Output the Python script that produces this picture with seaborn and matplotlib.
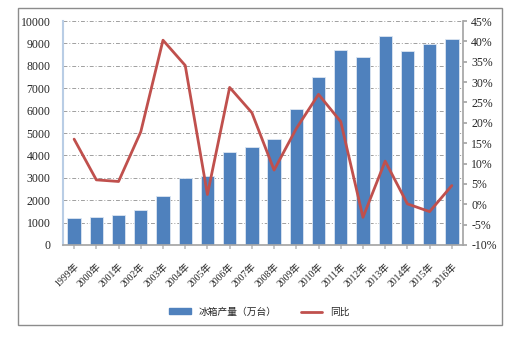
"""Refrigerator output and YoY growth, 1999-2016"""
import numpy as np
import pandas as pd
import seaborn as sns
import matplotlib
matplotlib.use("Agg")
import matplotlib.pyplot as plt
from matplotlib.patches import Rectangle
from matplotlib.lines import Line2D
from matplotlib.ticker import FuncFormatter

years = ["%d年" % y for y in range(1999, 2017)]
output = [1190, 1265, 1340, 1563, 2202, 3006, 3080, 4167, 4390,
          4732, 6057, 7515, 8690, 8393, 9345, 8660, 8988, 9211]
yoy = [16.0, 6.0, 5.6, 17.8, 40.3, 34.1, 2.4, 28.7, 22.5,
       8.4, 18.6, 27.0, 20.3, -3.2, 10.6, 0.1, -1.8, 4.6]
bar_label = "冰箱产量（万台）"
line_label = "同比"

df = pd.DataFrame({"year": years, "output": output, "yoy": yoy})

sns.set_theme(style="white")
plt.rcParams["font.family"] = ["Liberation Serif", "Noto Sans CJK SC"]

fig = plt.figure(figsize=(5.19, 3.51), dpi=100)
ax = fig.add_axes([0.1214, 0.302, 0.7706, 0.638])

sns.barplot(data=df, x="year", y="output", color="#4F81BD", width=0.6,
            saturation=1, edgecolor="#DCE6F2", linewidth=0.6, ax=ax)
ax.set_ylim(0, 10000)
ax.set_yticks(range(0, 10001, 1000))
ax.set_xlim(-0.5, len(years) - 0.5)
ax.set_xlabel("")
ax.set_ylabel("")
ax.yaxis.grid(True, color="#A0A0A0", linestyle=(0, (4, 2, 1, 2)), linewidth=0.7)
ax.set_axisbelow(True)
ax.tick_params(axis="y", labelsize=8.5, length=0, pad=9)
ax.tick_params(axis="x", labelsize=7, length=3, color="#BFBFBF", bottom=True,
               pad=9)
for lab in ax.get_xticklabels():
    lab.set_rotation(45)
    lab.set_ha("right")
    lab.set_rotation_mode("anchor")
for side in ["top", "right"]:
    ax.spines[side].set_visible(False)
ax.spines["left"].set_color("#B9CDE5")
ax.spines["left"].set_linewidth(1.5)
ax.spines["bottom"].set_color("#A6A6A6")

ax2 = ax.twinx()
sns.lineplot(x=np.arange(len(years)), y=df["yoy"], color="#C0504D",
             linewidth=2, ax=ax2)
ax2.set_ylim(-10, 45)
ax2.set_yticks(range(-10, 46, 5))
ax2.yaxis.set_major_formatter(FuncFormatter(lambda v, p: "%d%%" % v))
ax2.set_ylabel("")
ax2.tick_params(axis="y", labelsize=8.5, length=3, color="#A6A6A6", right=True,
                pad=3)
for side in ["top", "left", "bottom"]:
    ax2.spines[side].set_visible(False)
ax2.spines["right"].set_color("#A6A6A6")

handles = [Rectangle((0, 0), 1, 1, color="#4F81BD"),
           Line2D([0], [0], color="#C0504D", linewidth=2)]
fig.legend(handles, [bar_label, line_label], loc="center",
           bbox_to_anchor=(0.5, 0.112), ncol=2, frameon=False,
           handlelength=2.2, handleheight=0.5, columnspacing=2.5,
           prop={"family": ["Noto Sans CJK SC"], "size": 7})

fig.patches.append(Rectangle((18 / 519, 1 - 325 / 351), 484 / 519, 317 / 351,
                             transform=fig.transFigure, fill=False,
                             edgecolor="#8C8C8C", linewidth=1))

fig.savefig("out.png", dpi=100, facecolor="white")
